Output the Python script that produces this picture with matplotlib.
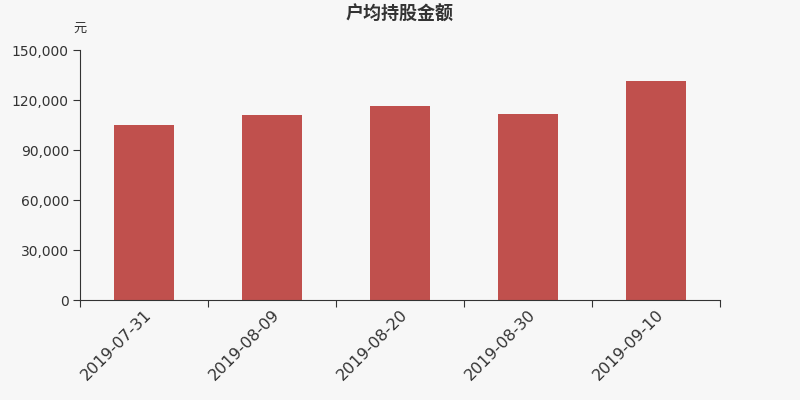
import numpy as np
import matplotlib
matplotlib.use('Agg')
import matplotlib.pyplot as plt
from matplotlib.ticker import FuncFormatter

plt.rcParams['font.family'] = ['DejaVu Sans', 'Noto Sans CJK SC']

# data
dates = ['2019-07-31', '2019-08-09', '2019-08-20', '2019-08-30', '2019-09-10']
amount = [105200, 111000, 116300, 111500, 131400]

bg = '#f7f7f7'
fig = plt.figure(figsize=(8, 4), dpi=100, facecolor=bg)
ax = fig.add_axes([0.1, 0.25, 0.8, 0.625], facecolor=bg)

x = np.arange(len(dates))
ax.bar(x, amount, width=0.47, color='#c0504d', zorder=2)

ax.set_xlim(-0.5, len(dates) - 0.5)
ax.set_ylim(0, 150000)
ax.set_yticks(np.arange(0, 150001, 30000))
ax.yaxis.set_major_formatter(FuncFormatter(lambda v, p: '{:,.0f}'.format(v)))

# ticks sit on the category edges, labels under the bar centres
ax.set_xticks(np.arange(-0.5, len(dates)), minor=False)
ax.set_xticklabels([''] * (len(dates) + 1))
ax.set_xticks(x, minor=True)
ax.set_xticklabels(dates, minor=True, rotation=45, ha='right',
                   rotation_mode='anchor', fontsize=11.5, color='#333333')
ax.tick_params(axis='x', which='minor', length=0, pad=5)
ax.tick_params(axis='x', which='major', length=5, color='#333333')
ax.tick_params(axis='y', length=5, color='#333333', labelsize=10,
               labelcolor='#333333', pad=3)

for side in ['top', 'right']:
    ax.spines[side].set_visible(False)
for side in ['left', 'bottom']:
    ax.spines[side].set_color('#333333')

fig.text(0.5, 0.965, '户均持股金额', ha='center', va='center', fontsize=13,
         fontweight='bold', color='#333333', family=['Noto Sans CJK SC'])
fig.text(0.1, 0.93, '元', ha='center', va='center', fontsize=9.5,
         color='#333333', family=['Noto Sans CJK SC'])

fig.savefig('out.png', dpi=100, facecolor=bg)
